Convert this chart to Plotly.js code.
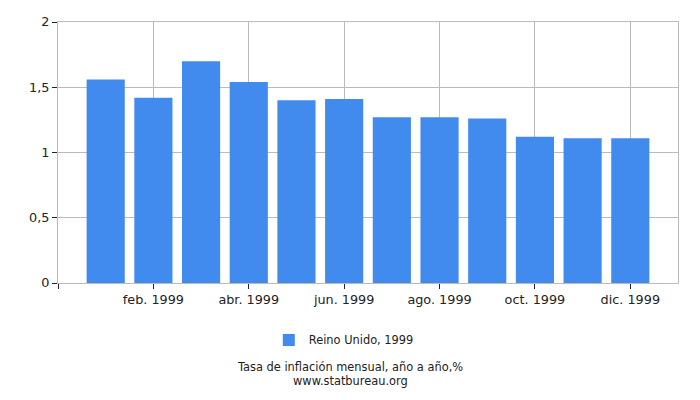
<html><head>
<meta charset="utf8"/>
<script src="https://cdn.plot.ly/plotly-3.0.1.min.js"></script>
<style>
  * { margin: 0px; padding: 0px }
  #chart { width: 700px; height: 400px }
</style>
</head><body>
<div id="chart"></div>
<script>
// data
var months = ['ene. 1999', 'feb. 1999', 'mar. 1999', 'abr. 1999', 'may. 1999', 'jun. 1999',
              'jul. 1999', 'ago. 1999', 'sep. 1999', 'oct. 1999', 'nov. 1999', 'dic. 1999'];
var inflation = [1.56, 1.42, 1.70, 1.54, 1.40, 1.41, 1.27, 1.27, 1.26, 1.12, 1.11, 1.11];
var seriesName = 'Reino Unido, 1999';
var yTicks = [0, 0.5, 1, 1.5, 2];
var yTickText = ['0', '0,5', '1', '1,5', '2'];

var idx = months.map(function(m, i){ return i; });
// every other month gets a label, plus an empty tick at the left edge
var xTicks = [-1];
var xTickText = [''];
for (var i = 1; i < months.length; i += 2) {
    xTicks.push(i);
    xTickText.push(months[i]);
}

var tickFont = {family: 'DejaVu Sans', size: 12.8, color: '#222'};
var smallFont = {family: 'DejaVu Sans', size: 11.4, color: '#222'};
// legend and footer are centred on the page, not on the plot area
var midX = (350 - 58) / 620;

var trace = {
    x: idx,
    y: inflation,
    type: 'bar',
    name: seriesName,
    hovertext: months,
    hoverinfo: 'text+y',
    textposition: 'none',
    marker: {color: '#428bee'}
};

var layout = {
    width: 700,
    height: 400,
    margin: {l: 58, r: 22, t: 22, b: 117},
    paper_bgcolor: '#fff',
    plot_bgcolor: '#fff',
    font: tickFont,
    bargap: 0.2,
    showlegend: true,
    legend: {
        orientation: 'h',
        x: midX - 0.01, xanchor: 'center',
        y: -0.218, yanchor: 'middle',
        font: smallFont
    },
    xaxis: {
        range: [-1, 12],
        tickmode: 'array',
        tickvals: xTicks,
        ticktext: xTickText,
        ticks: 'outside',
        ticklen: 5,
        tickcolor: '#222',
        tickfont: tickFont,
        showgrid: true,
        gridcolor: '#bbb',
        showline: true,
        linecolor: '#bbb',
        mirror: true,
        zeroline: false,
        fixedrange: true
    },
    yaxis: {
        range: [0, 2],
        tickmode: 'array',
        tickvals: yTicks,
        ticktext: yTickText,
        ticks: 'outside',
        ticklen: 5,
        tickcolor: '#222',
        tickfont: tickFont,
        showgrid: true,
        gridcolor: '#bbb',
        showline: true,
        linecolor: '#bbb',
        mirror: true,
        zeroline: false,
        fixedrange: true
    },
    annotations: [
        {text: 'Tasa de inflación mensual, año a año,%', xref: 'paper', yref: 'paper',
         x: midX, y: -0.322, xanchor: 'center', yanchor: 'middle', showarrow: false, font: smallFont},
        {text: 'www.statbureau.org', xref: 'paper', yref: 'paper',
         x: midX, y: -0.377, xanchor: 'center', yanchor: 'middle', showarrow: false, font: smallFont}
    ]
};

Plotly.newPlot('chart', [trace], layout, {displayModeBar: false, staticPlot: true});
</script>
</body></html>
